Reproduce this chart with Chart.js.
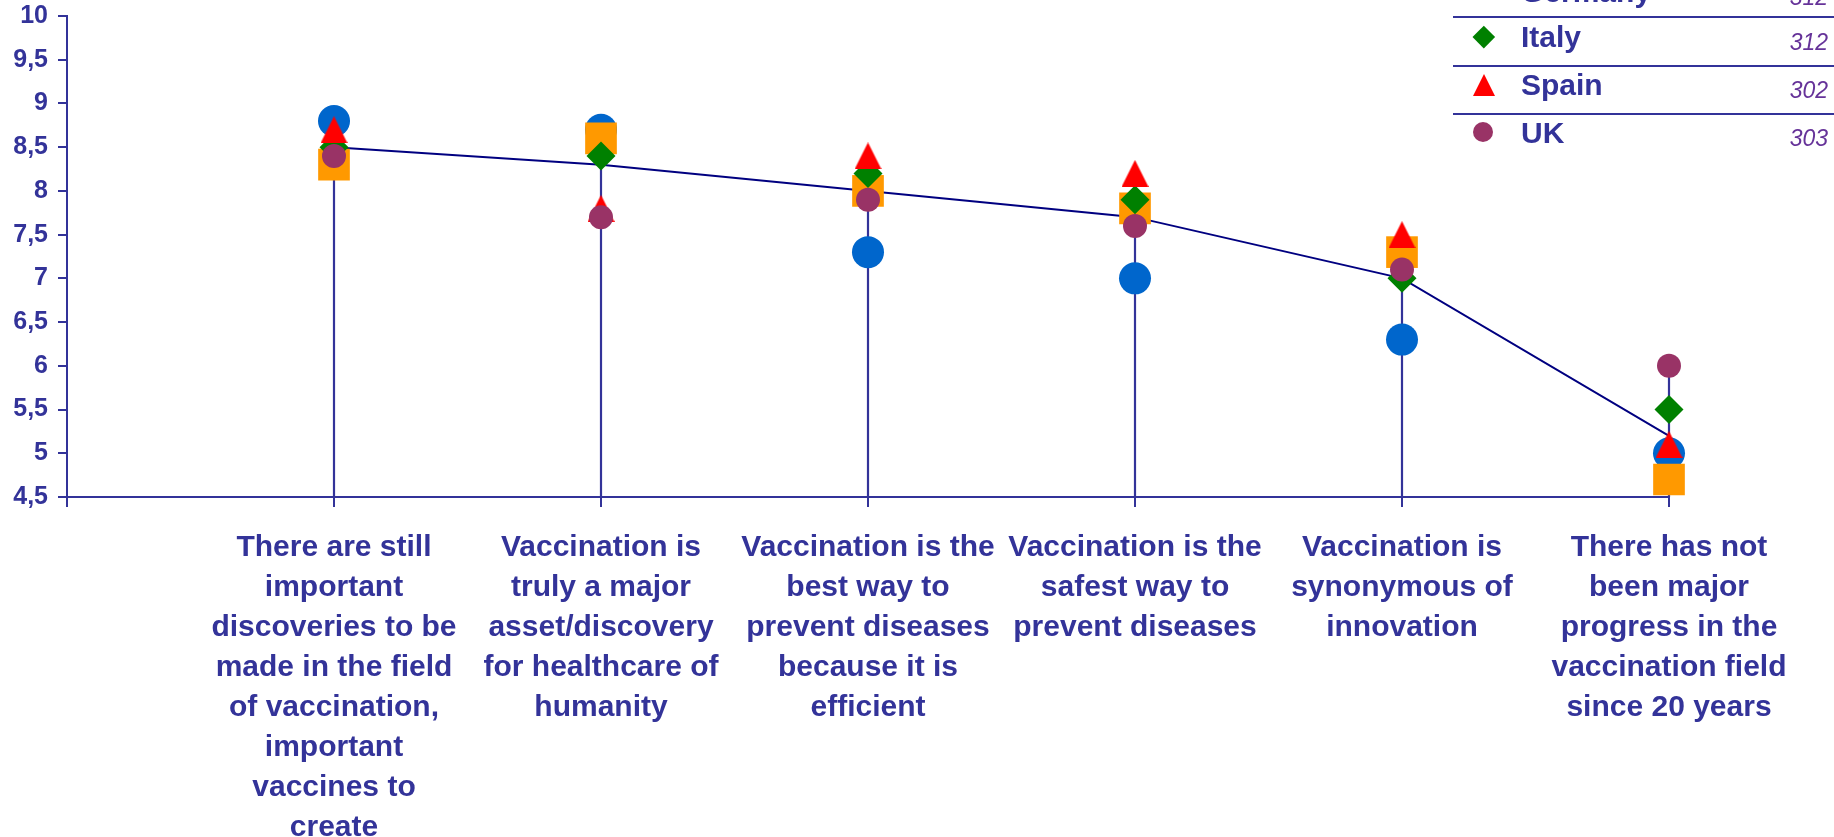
<!DOCTYPE html>
<html><head><meta charset="utf-8">
<script src="https://cdn.jsdelivr.net/npm/chart.js@4.4.0/dist/chart.umd.min.js"></script>
<style>
html,body{margin:0;padding:0;background:#fff;overflow:hidden;}
#wrap{position:relative;width:1834px;height:837px;overflow:hidden;}
#c{position:absolute;left:0;top:0;}
.sep{position:absolute;left:1453px;width:381px;height:2px;background:#333399;}
.name{position:absolute;left:1521px;font:bold 30px/30px "Liberation Sans",Arial,sans-serif;color:#333399;white-space:nowrap;}
.num{position:absolute;right:6px;font:italic 23px/23px "Liberation Sans",Arial,sans-serif;color:#663399;white-space:nowrap;}
.mk{position:absolute;}
</style></head>
<body>
<div id="wrap">
<canvas id="c" width="1834" height="837"></canvas>
<div id="legend"></div>
</div>
<script>
// ---- data ----
const categories = [
  ["There are still","important","discoveries to be","made in the field","of vaccination,","important","vaccines to","create"],
  ["Vaccination is","truly a major","asset/discovery","for healthcare of","humanity"],
  ["Vaccination is the","best way to","prevent diseases","because it is","efficient"],
  ["Vaccination is the","safest way to","prevent diseases"],
  ["Vaccination is","synonymous of","innovation"],
  ["There has not","been major","progress in the","vaccination field","since 20 years"]
];
const france  = [8.8, 8.7, 7.3, 7.0, 6.3, 5.0];
const germany = [8.3, 8.6, 8.0, 7.8, 7.3, 4.7];
const italy   = [8.5, 8.4, 8.2, 7.9, 7.0, 5.5];
const spain   = [8.7, 7.8, 8.4, 8.2, 7.5, 5.1];
const uk      = [8.4, 7.7, 7.9, 7.6, 7.1, 6.0];
const total   = [8.5, 8.3, 8.0, 7.7, 7.0, 5.2];
const yTickLabels = ["4,5","5","5,5","6","6,5","7","7,5","8","8,5","9","9,5","10"];
const legendNames  = ["Germany","Italy","Spain","UK"];
const legendCounts = ["312","312","302","303"];

const Y_MIN = 4.5, Y_MAX = 10;
const AXIS = '#333399';
const FONT = '"Liberation Sans", Arial, sans-serif';

function pts(arr){ return arr.map((v,i)=>({x:i+1,y:v})); }
const allSeries = [france, germany, italy, spain, uk];
const dropData = [];
categories.forEach((c,i)=>{
  const mx = Math.max(...allSeries.map(s=>s[i]));
  dropData.push({x:i+1,y:Y_MIN},{x:i+1,y:mx},{x:i+1,y:null});
});

// triangle marker
const tri = document.createElement('canvas');
tri.width = 27; tri.height = 27;
(function(){const g=tri.getContext('2d');g.fillStyle='#FF0000';g.beginPath();g.moveTo(0,27);g.lineTo(13.5,0);g.lineTo(27,27);g.closePath();g.fill();})();

const common = {showLine:false, clip:false, pointBorderWidth:0};
new Chart(document.getElementById('c'), {
  type:'line',
  data:{datasets:[
    {...common,label:'UK',data:pts(uk),pointStyle:'circle',pointRadius:12,pointBackgroundColor:'#993366',pointBorderColor:'#993366',order:1},
    {...common,label:'Spain',data:pts(spain),pointStyle:tri,pointRadius:14,pointBackgroundColor:'#FF0000',order:2},
    {...common,label:'Italy',data:pts(italy),pointStyle:'rectRot',pointRadius:14.5,pointBackgroundColor:'#008000',pointBorderColor:'#008000',order:3},
    {...common,label:'Germany',data:pts(germany),pointStyle:'rect',pointRadius:22.4,pointBackgroundColor:'#FF9900',pointBorderColor:'#FF9900',order:4},
    {...common,label:'France',data:pts(france),pointStyle:'circle',pointRadius:16,pointBackgroundColor:'#0066CC',pointBorderColor:'#0066CC',order:5},
    {label:'Total',data:pts(total),showLine:true,clip:false,borderColor:'#000080',borderWidth:2,pointRadius:0,tension:0,order:6},
    {label:'drop',data:dropData,showLine:true,spanGaps:false,clip:false,borderColor:AXIS,borderWidth:2.2,pointRadius:0,order:7}
  ]},
  options:{
    responsive:false, animation:false, events:[],
    layout:{autoPadding:false,padding:{top:16,left:0,right:165,bottom:0}},
    plugins:{legend:{display:false},tooltip:{enabled:false}},
    scales:{
      x:{type:'linear',min:0,max:6,
        afterFit:(s)=>{s.height=340;s.paddingLeft=0;s.paddingRight=0;},
        border:{color:AXIS,width:2},
        grid:{drawOnChartArea:false,drawTicks:true,tickLength:10,color:AXIS,lineWidth:2},
        ticks:{stepSize:1,autoSkip:false,maxRotation:0,minRotation:0,padding:21,color:AXIS,
          font:{family:FONT,size:30,weight:'bold',lineHeight:1.3333},
          callback:(v)=> (v>=1 && v<=categories.length && Number.isInteger(v)) ? categories[v-1] : ''}
      },
      y:{type:'linear',min:Y_MIN,max:Y_MAX,
        afterFit:(s)=>{s.width=67;s.paddingTop=0;s.paddingBottom=0;},
        border:{color:AXIS,width:2},
        grid:{drawOnChartArea:false,drawTicks:true,tickLength:9,color:AXIS,lineWidth:2},
        ticks:{stepSize:0.5,padding:10,color:AXIS,font:{family:FONT,size:25,weight:'bold'},
          callback:(v,i)=> yTickLabels[i]}
      }
    }
  }
});

// ---- legend (table-like, cut at top as in the reference) ----
const leg = document.getElementById('legend');
const rowBase = [2, 47, 95, 143];
const markers = [
  '<div class="mk" style="left:1473px;top:{T}px;width:21px;height:21px;background:#FF9900"></div>',
  '<div class="mk" style="left:1476px;top:{T}px;width:15.6px;height:15.6px;background:#008000;transform:rotate(45deg)"></div>',
  '<div class="mk" style="left:1473px;top:{T}px;width:0;height:0;border-left:11px solid transparent;border-right:11px solid transparent;border-bottom:22px solid #FF0000"></div>',
  '<div class="mk" style="left:1473px;top:{T}px;width:20px;height:20px;border-radius:50%;background:#993366"></div>'
];
const mkTop = [-32, 29, 74, 122];
let html = '';
[16,65,113].forEach(t=>{ html += '<div class="sep" style="top:'+t+'px"></div>'; });
legendNames.forEach((n,i)=>{
  html += markers[i].replace('{T}', mkTop[i]);
  html += '<div class="name" style="top:'+(rowBase[i]-25.4)+'px">'+n+'</div>';
  html += '<div class="num" style="top:'+(rowBase[i]+3-19.5)+'px">'+legendCounts[i]+'</div>';
});
leg.innerHTML = html;
</script>
</body></html>
